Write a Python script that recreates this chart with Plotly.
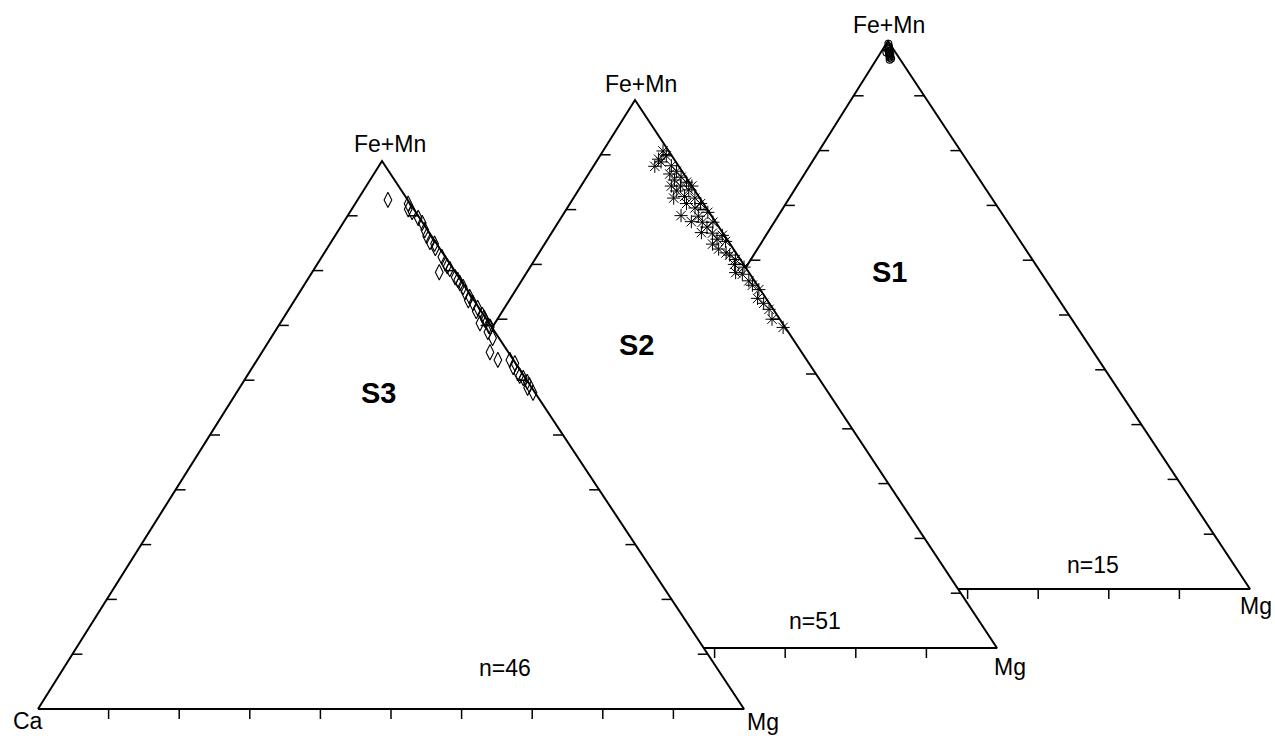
import plotly.graph_objects as go

# ---------------- data (percent Fe+Mn, Ca, Mg) ----------------
s3_fe = [92.9, 92.2, 91.2, 89.6, 88.7, 86.3, 85.2, 84.1, 82.5, 81.4, 79.7, 80.3, 78.8, 77.7, 76.1,
         75.2, 74.1, 73.2, 71.9, 70.4, 71.0, 69.7, 67.7, 65.1, 63.7, 63.7, 62.4, 61.3, 60.4, 59.1,
         57.7, 90.7, 87.4, 80.8, 78.3, 77.0, 72.6, 71.4, 68.8, 69.9, 63.1, 60.8, 59.7, 58.6, 74.6, 84.9]
s3_ca = [2.8, 0.3, 0.8, 0.2, 0.1, 0.7, 0.8, 0.6, 0.5, 0.6, 2.3, 0.5, 0.5, 0.4, 0.5,
         0.3, 0.4, 0.2, 0.2, 1.3, 0.3, 0.2, 0.9, 2.6, 2.2, 0.5, 0.7, 0.6, 0.3, 0.1,
         0.3, 0.5, 0.4, 0.6, 0.4, 0.3, 0.7, 0.2, 1.0, 0.3, 0.1, 0.6, 0.1, 0.6, 0.8, 0.3]
s3_mg = [4.3, 7.5, 8.0, 10.2, 11.2, 13.0, 14.0, 15.3, 17.0, 18.0, 18.0, 19.2, 20.7, 21.9, 23.4,
         24.5, 25.5, 26.6, 27.9, 28.3, 28.7, 30.1, 31.4, 32.3, 34.1, 35.8, 36.9, 38.1, 39.3, 40.8,
         42.0, 8.8, 12.2, 18.6, 21.3, 22.7, 26.7, 28.4, 30.2, 29.8, 36.8, 38.6, 40.2, 40.8, 24.6, 14.8]

s2_fe = [90.7, 89.2, 87.9, 88.0, 86.5, 85.9, 84.3, 84.3, 84.3, 82.1, 82.4, 82.1, 80.3, 79.5, 78.9,
         77.8, 77.7, 77.7, 75.8, 75.7, 75.3, 73.7, 74.2, 72.1, 70.9, 70.0, 68.5, 68.2, 67.0, 65.4,
         63.8, 61.8, 60.0, 58.5, 89.8, 88.7, 87.0, 85.4, 85.0, 83.4, 83.6, 81.1, 81.1, 78.8, 76.8,
         74.6, 72.8, 71.7, 69.5, 66.2, 62.9]
s2_ca = [0.8, 2.2, 3.4, 1.0, 2.0, 0.7, 2.9, 1.6, 0.0, 3.7, 2.0, 0.7, 1.6, 0.2, 4.3,
         3.4, 1.9, 0.4, 3.0, 1.5, 0.3, 2.5, 0.4, 1.4, 0.7, 1.3, 1.9, 1.1, 0.8, 0.2,
         1.2, 0.6, 1.1, 0.3, 0.8, 2.1, 0.8, 1.9, 0.4, 2.6, 0.8, 2.4, 0.4, 1.9, 1.7,
         1.4, 2.1, 1.1, 0.2, 0.7, 0.8]
s2_mg = [8.5, 8.6, 8.7, 11.0, 11.5, 13.4, 12.8, 14.1, 15.7, 14.2, 15.6, 17.2, 18.1, 20.3, 16.8,
         18.8, 20.4, 21.9, 21.2, 22.8, 24.4, 23.8, 25.4, 26.5, 28.4, 28.7, 29.6, 30.7, 32.2, 34.4,
         35.0, 37.6, 38.9, 41.2, 9.4, 9.2, 12.2, 12.7, 14.6, 14.0, 15.6, 16.5, 18.5, 19.3, 21.5,
         24.0, 25.1, 27.2, 30.3, 33.1, 36.3]

s1_fe = [99.5, 99.0, 98.8, 98.5, 98.2, 98.0, 97.8, 97.6, 97.4, 97.2, 97.0, 96.8, 98.6, 97.9, 96.6]
s1_ca = [0.2, 0.4, 0.5, 0.6, 0.7, 0.9, 1.0, 0.9, 1.1, 1.2, 1.3, 1.2, 0.8, 1.3, 1.5]
s1_mg = [0.3, 0.6, 0.7, 0.9, 1.1, 1.1, 1.2, 1.5, 1.5, 1.6, 1.7, 2.0, 0.6, 0.8, 1.9]

panels = ["S1", "S2", "S3"]          # drawn back to front
counts = ["n=15", "n=51", "n=46"]
tick_levels = [0.1, 0.2, 0.3, 0.4, 0.5, 0.6, 0.7, 0.8, 0.9]
apex_label, left_label, right_label = "Fe+Mn", "Ca", "Mg"

# ---------------- geometry (pixel space) ----------------
BASE = {"ca": (38, 709), "mg": (744, 709), "apex": (382, 161)}
OFFSET = {"S1": (506, -120), "S2": (253, -61), "S3": (0, 0)}
SYMBOL = {"S1": ("circle-open", 7, 1.1), "S2": ("asterisk-open", 11, 1.0),
          "S3": ("diamond-tall-open", 11, 1.1)}
DATA = {"S1": (s1_fe, s1_ca, s1_mg), "S2": (s2_fe, s2_ca, s2_mg), "S3": (s3_fe, s3_ca, s3_mg)}
NAME_POS = {"S1": (889, 272), "S2": (636, 345), "S3": (378, 393)}
COUNT_POS = {"S1": (1093, 565), "S2": (815, 621), "S3": (505, 668)}
APEX_POS = {"S1": (889, 25), "S2": (641, 84), "S3": (390, 144)}
MG_POS = {"S1": (1256, 606), "S2": (1010, 667), "S3": (763, 722)}
CA_POS = (28, 721)
TL = 10
FONT = "Liberation Sans, Arial, sans-serif"


def corners(p):
    dx, dy = OFFSET[p]
    return {k: (v[0] + dx, v[1] + dy) for k, v in BASE.items()}


def to_xy(c, fe, ca, mg):
    xs, ys = [], []
    for a, b, m in zip(fe, ca, mg):
        s = a + b + m
        a, b, m = a / s, b / s, m / s
        xs.append(a * c["apex"][0] + b * c["ca"][0] + m * c["mg"][0])
        ys.append(a * c["apex"][1] + b * c["ca"][1] + m * c["mg"][1])
    return xs, ys


def lerp(p, q, t):
    return (p[0] + (q[0] - p[0]) * t, p[1] + (q[1] - p[1]) * t)


fig = go.Figure()
annotations = []

for p, n in zip(panels, counts):
    c = corners(p)
    tri_x = [c["ca"][0], c["mg"][0], c["apex"][0], c["ca"][0]]
    tri_y = [c["ca"][1], c["mg"][1], c["apex"][1], c["ca"][1]]
    fig.add_trace(go.Scatter(x=tri_x, y=tri_y, mode="lines", fill="toself",
                             fillcolor="white", line=dict(color="black", width=2),
                             hoverinfo="skip", showlegend=False))
    tx, ty = [], []
    for t in tick_levels:
        lx, ly = lerp(c["ca"], c["apex"], t)
        tx += [lx, lx + TL, None]; ty += [ly, ly, None]
        rx, ry = lerp(c["mg"], c["apex"], t)
        tx += [rx, rx - TL, None]; ty += [ry, ry, None]
        bx, by = lerp(c["ca"], c["mg"], t)
        tx += [bx, bx, None]; ty += [by, by + TL, None]
    fig.add_trace(go.Scatter(x=tx, y=ty, mode="lines", line=dict(color="black", width=1.5),
                             hoverinfo="skip", showlegend=False))
    fe, ca, mg = DATA[p]
    px, py = to_xy(c, fe, ca, mg)
    sym, size, lw = SYMBOL[p]
    fig.add_trace(go.Scatter(x=px, y=py, mode="markers", name=p, showlegend=False,
                             marker=dict(symbol=sym, size=size, color="black",
                                         line=dict(color="black", width=lw))))
    annotations.append(dict(x=NAME_POS[p][0], y=NAME_POS[p][1], text="<b>" + p + "</b>",
                            font=dict(size=29, family=FONT, color="black")))
    annotations.append(dict(x=COUNT_POS[p][0], y=COUNT_POS[p][1], text=n,
                            font=dict(size=23, family=FONT, color="black")))
    annotations.append(dict(x=APEX_POS[p][0], y=APEX_POS[p][1], text=apex_label,
                            font=dict(size=23, family=FONT, color="black")))
    annotations.append(dict(x=MG_POS[p][0], y=MG_POS[p][1], text=right_label,
                            font=dict(size=23, family=FONT, color="black")))

annotations.append(dict(x=CA_POS[0], y=CA_POS[1], text=left_label,
                        font=dict(size=23, family=FONT, color="black")))
for a in annotations:
    a.update(xref="x", yref="y", showarrow=False, xanchor="center", yanchor="middle")

fig.update_layout(
    width=1275, height=736, margin=dict(l=0, r=0, t=0, b=0),
    paper_bgcolor="white", plot_bgcolor="white",
    xaxis=dict(range=[0, 1275], visible=False, fixedrange=True),
    yaxis=dict(range=[736, 0], visible=False, fixedrange=True),
    annotations=annotations, showlegend=False,
)

fig.write_html("out.html", config={"displayModeBar": False},
               post_script="document.body.style.margin='0';")
